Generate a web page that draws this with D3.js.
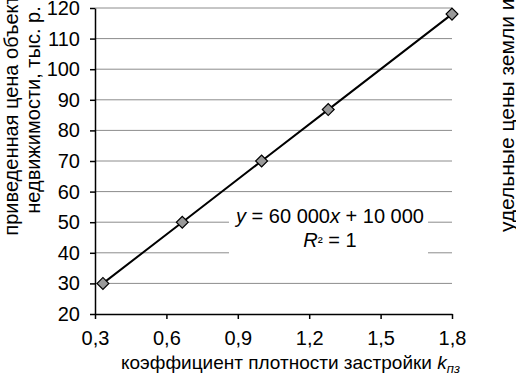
<!DOCTYPE html>
<html><head><meta charset="utf-8">
<script src="https://cdn.jsdelivr.net/npm/d3@7"></script>
<style>body{margin:0;background:#fff;} svg{display:block;font-family:"Liberation Sans",Arial,sans-serif;}</style>
</head><body>
<svg id="c" width="516" height="375"></svg>
<script>
const xValues = [0.3333, 0.6667, 1.0, 1.28, 1.8];
const yValues = [30, 50, 70, 86.8, 118];
const xTicks = [0.3, 0.6, 0.9, 1.2, 1.5, 1.8];
const yTicks = [20, 30, 40, 50, 60, 70, 80, 90, 100, 110, 120];
const yTitle = ["приведенная цена объекта", "недвижимости, тыс. р."];
const xTitle = "коэффициент плотности застройки ";
const rightTitle = "удельные цены земли и";
const eq1 = ["y", " = 60 000", "x", " + 10 000"];

const svg = d3.select("#c");
const x = d3.scaleLinear().domain([0.3, 1.8]).range([95, 452]);
const y = d3.scaleLinear().domain([20, 120]).range([314, 8]);
const fmt = d => d3.format(".1f")(d).replace(".", ",");

// gridlines
svg.append("g").selectAll("line").data(yTicks.filter(d => d > 20)).join("line")
  .attr("x1", x(0.3)).attr("x2", x(1.8)).attr("y1", d => y(d)).attr("y2", d => y(d))
  .attr("stroke", "#8c8c8c").attr("stroke-width", 1);

// equation background
const eqX = 330, eqY = 223;
svg.append("rect").attr("x", 229).attr("y", 200).attr("width", 199).attr("height", 58).attr("fill", "#fff");

// axes
const yAxis = svg.append("g").attr("transform", `translate(${x(0.3)},0)`)
  .call(d3.axisLeft(y).tickValues(yTicks).tickSize(5).tickSizeOuter(0).tickPadding(10));
const xAxis = svg.append("g").attr("transform", `translate(0,${y(20)})`)
  .call(d3.axisBottom(x).tickValues(xTicks).tickFormat(fmt).tickSize(5).tickSizeOuter(0).tickPadding(12));
[yAxis, xAxis].forEach(a => {
  a.select(".domain").attr("stroke", "#000").attr("stroke-width", 1.5);
  a.selectAll(".tick line").attr("stroke", "#000").attr("stroke-width", 1.5);
  a.selectAll("text").attr("fill", "#000").attr("font-size", 20).attr("font-family", "Liberation Sans, Arial, sans-serif");
});

// line
svg.append("path").datum(xValues.map((v, i) => [v, yValues[i]]))
  .attr("d", d3.line().x(d => x(d[0])).y(d => y(d[1])))
  .attr("fill", "none").attr("stroke", "#000").attr("stroke-width", 2);

// markers
svg.append("g").selectAll("path").data(xValues.map((v, i) => [v, yValues[i]])).join("path")
  .attr("d", d3.symbol(d3.symbolSquare, 70)())
  .attr("transform", d => `translate(${x(d[0])},${y(d[1])}) rotate(45)`)
  .attr("fill", "#999999").attr("stroke", "#000").attr("stroke-width", 1.2);

// equation text
const t1 = svg.append("text").attr("x", eqX).attr("y", eqY).attr("text-anchor", "middle").attr("font-size", 20);
eq1.forEach((s, i) => t1.append("tspan").text(s).attr("font-style", i % 2 === 0 ? "italic" : "normal"));
const t2 = svg.append("text").attr("x", eqX).attr("y", eqY + 24).attr("text-anchor", "middle").attr("font-size", 20);
t2.append("tspan").text("R").attr("font-style", "italic");
t2.append("tspan").text("²").attr("font-size", 15);
t2.append("tspan").text(" = 1");

// y title
const yt = svg.append("text").attr("transform", "translate(18,110) rotate(-90)").attr("text-anchor", "middle").attr("font-size", 20);
yTitle.forEach((s, i) => yt.append("tspan").attr("x", 0).attr("dy", i === 0 ? 0 : 22).text(s));

// x title
const xt = svg.append("text").attr("x", 121).attr("y", 369).attr("font-size", 19);
xt.append("tspan").text(xTitle);
xt.append("tspan").text("k").attr("font-style", "italic");
xt.append("tspan").text("пз").attr("font-style", "italic").attr("font-size", 13).attr("dy", 4);

// right title (partial)
svg.append("text").attr("transform", "translate(514,232) rotate(-90)").attr("text-anchor", "start").attr("font-size", 21).text(rightTitle);
</script>
</body></html>
